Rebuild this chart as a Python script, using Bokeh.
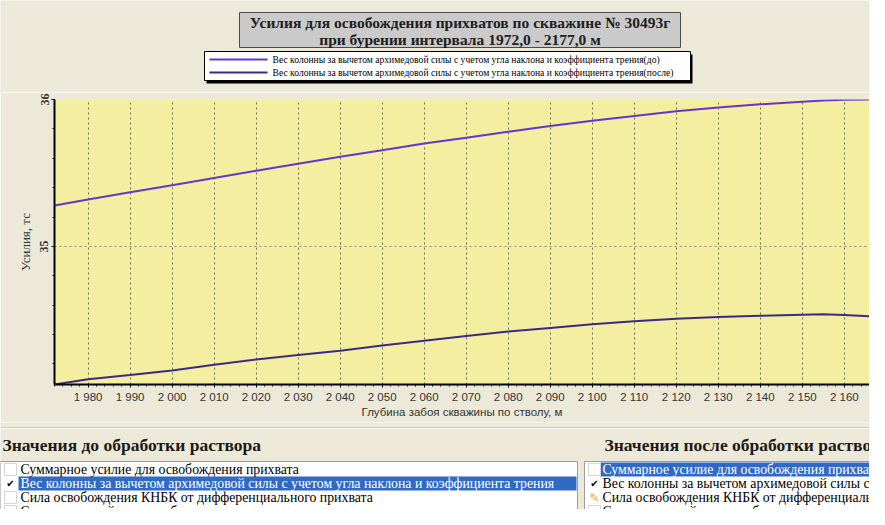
from bokeh.plotting import figure
from bokeh.models import Range1d, SingleIntervalTicker
from bokeh.layouts import column, row
from bokeh.core.properties import value
from bokeh.embed import file_html
from bokeh.resources import INLINE

# ---------------- data ----------------
depth = [1972, 1980, 1990, 2000, 2010, 2020, 2030, 2040, 2050, 2060, 2070,
         2080, 2090, 2100, 2110, 2120, 2130, 2140, 2150, 2155, 2160, 2170, 2177]
force_before = [35.278, 35.32, 35.368, 35.417, 35.466, 35.515, 35.563, 35.61, 35.655,
                35.70, 35.74, 35.78, 35.82, 35.855, 35.888, 35.92, 35.945, 35.967,
                35.985, 35.993, 35.999, 36.0, 35.998]
force_after = [34.06, 34.095, 34.125, 34.156, 34.195, 34.23, 34.26, 34.29, 34.325,
               34.358, 34.39, 34.42, 34.445, 34.47, 34.49, 34.508, 34.52, 34.528,
               34.535, 34.538, 34.533, 34.52, 34.51]

x_tick_values = [1980, 1990, 2000, 2010, 2020, 2030, 2040, 2050, 2060, 2070, 2080,
                 2090, 2100, 2110, 2120, 2130, 2140, 2150, 2160, 2170]
x_tick_labels = ["1 980", "1 990", "2 000", "2 010", "2 020", "2 030", "2 040",
                 "2 050", "2 060", "2 070", "2 080", "2 090", "2 100", "2 110",
                 "2 120", "2 130", "2 140", "2 150", "2 160", "2 170"]
y_tick_values = [35, 36]
y_tick_labels = ["35", "36"]

title_lines = ["Усилия для освобождения прихватов по скважине № 30493г",
               "при бурении интервала 1972,0 - 2177,0 м"]
legend_labels = ["Вес колонны за вычетом архимедовой силы с учетом угла наклона и коэффициента трения(до)",
                 "Вес колонны за вычетом архимедовой силы с учетом угла наклона и коэффициента трения(после)"]
x_title = "Глубина забоя скважины по стволу, м"
y_title = "Усилия, тс"

panel_titles = ["Значения до обработки раствора", "Значения после обработки раствора"]
list_items = ["Суммарное усилие для освобождения прихвата",
              "Вес колонны за вычетом архимедовой силы с учетом угла наклона и коэффициента трения",
              "Сила освобождения КНБК от дифференциального прихвата",
              "Сила взаимодействия труб со шламом в зоне осадконакопления"]
left_selected = 1
left_checked = [1]
left_edited = []
right_selected = 0
right_checked = [1]
right_edited = [2]

# ---------------- styles ----------------
BG = "#ECE9D8"
PLOT_BG = "#F3EEA0"
C_BEFORE = "#6A34CC"
C_AFTER = "#3A2A86"
SERIF = value("Liberation Serif")
SANS = value("Liberation Sans")
SEL = "#316AC5"

# ---------------- top: title + legend ----------------
ft = figure(width=869, height=92, x_range=Range1d(8, 877), y_range=Range1d(100, 8),
            output_backend="svg", toolbar_location=None,
            x_axis_location=None, y_axis_location=None,
            min_border=0, background_fill_color=BG, border_fill_color=BG,
            outline_line_color=None)
ft.grid.visible = False

ft.quad(left=[247], right=[688], top=[20], bottom=[55],
        fill_color="#CACACA", line_color="#4A4A4A", line_width=1)
ft.text(x=[467.5, 467.5], y=[30, 46.5], text=title_lines,
        text_font=SERIF, text_font_size=value("15.5px"), text_font_style="bold",
        text_align="center", text_baseline="middle", text_color="#202020")

# legend box with shadow
ft.quad(left=[214], right=[700], top=[62], bottom=[91], fill_color="#000000", line_color=None)
ft.quad(left=[212], right=[698], top=[59], bottom=[88],
        fill_color="#FFFFFF", line_color="#000000", line_width=1)
leg_y = [67, 80]
for yy, col, lab in zip(leg_y, [C_BEFORE, C_AFTER], legend_labels):
    ft.segment(x0=[217], x1=[275], y0=[yy], y1=[yy], line_color=col, line_width=2)
    ft.text(x=[280], y=[yy], text=[lab], text_font=SERIF,
            text_font_size=value("9.6px"), text_align="left",
            text_baseline="middle", text_color="#000000")

# ---------------- main plot ----------------
p = figure(width=869, height=330, x_range=Range1d(1972, 2166),
           y_range=Range1d(34.06, 36.0),
           output_backend="svg", toolbar_location=None,
           min_border_left=54, min_border_right=0, min_border_top=7,
           min_border_bottom=38,
           background_fill_color=PLOT_BG, border_fill_color=BG,
           outline_line_color=None)

p.xaxis.ticker = SingleIntervalTicker(interval=10, num_minor_ticks=5)
p.xaxis.major_label_overrides = dict(zip(x_tick_values, x_tick_labels))
p.yaxis.ticker = SingleIntervalTicker(interval=1, num_minor_ticks=5)
p.yaxis.major_label_overrides = dict(zip(y_tick_values, y_tick_labels))

p.xaxis.axis_label = x_title
p.yaxis.axis_label = y_title

for ax in (p.xaxis, p.yaxis):
    ax.axis_line_color = "#000000"
    ax.axis_line_width = 2
    ax.major_tick_in = 0
    ax.major_tick_out = 3
    ax.minor_tick_in = 0
    ax.minor_tick_out = 2
    ax.major_tick_line_color = "#000000"
    ax.minor_tick_line_color = "#000000"
    ax.axis_label_text_font_style = "normal"
    ax.axis_label_text_color = "#333333"
    ax.major_label_text_color = "#333333"

p.xaxis.major_label_text_font = "Liberation Sans"
p.xaxis.major_label_text_font_size = "11.5px"
p.xaxis.major_label_standoff = 3
p.xaxis.axis_label_text_font = "Liberation Sans"
p.xaxis.axis_label_text_font_size = "11.5px"
p.xaxis.axis_label_standoff = 0

p.yaxis.major_label_text_font = "Liberation Serif"
p.yaxis.major_label_text_font_size = "12px"
p.yaxis.major_label_text_font_style = "bold"
p.yaxis.major_label_orientation = "vertical"
p.yaxis.major_label_standoff = 3
p.yaxis.axis_label_text_font = "Liberation Serif"
p.yaxis.axis_label_text_font_size = "13px"
p.yaxis.axis_label_standoff = 5

p.xgrid.grid_line_color = "#6E6E5A"
p.xgrid.grid_line_dash = "2 3"
p.xgrid.grid_line_width = 1
p.ygrid.grid_line_color = "#8C8C78"
p.ygrid.grid_line_dash = "2 3"
p.ygrid.grid_line_width = 1

p.line(depth, force_before, line_color=C_BEFORE, line_width=2)
p.line(depth, force_after, line_color=C_AFTER, line_width=2)

# ---------------- bottom: value panels ----------------
fb = figure(width=869, height=87, x_range=Range1d(8, 877), y_range=Range1d(517, 430),
            output_backend="svg", toolbar_location=None,
            x_axis_location=None, y_axis_location=None,
            min_border=0, background_fill_color=BG, border_fill_color=BG,
            outline_line_color=None)
fb.grid.visible = False

fb.segment(x0=[8], x1=[877], y0=[435], y1=[435], line_color="#D0CCBA", line_width=1)
fb.segment(x0=[8], x1=[877], y0=[436], y1=[436], line_color="#FAFAF6", line_width=1)

fb.text(x=[10, 612], y=[452, 452], text=panel_titles, text_font=SERIF,
        text_font_size=value("17.5px"), text_font_style="bold",
        text_align="left", text_baseline="middle", text_color="#1A1A1A")

row_y = [477, 491, 505, 519]
panels = [(8, 585, 12, 28, left_selected, left_checked, left_edited),
          (592, 900, 596, 610, right_selected, right_checked, right_edited)]
for (bx0, bx1, cbx, tx, sel, checked, edited) in panels:
    fb.quad(left=[bx0], right=[bx1], top=[469], bottom=[530],
            fill_color="#FFFFFF", line_color="#9C9C9C", line_width=1)
    for i, (yy, item) in enumerate(zip(row_y, list_items)):
        if i == sel:
            fb.quad(left=[tx - 2], right=[bx1 - 1], top=[yy - 7], bottom=[yy + 7],
                    fill_color=SEL, line_color=None)
        if i in checked:
            fb.text(x=[cbx + 6], y=[yy], text=["✔"], text_font=value("DejaVu Sans"),
                    text_font_size=value("10px"), text_align="center",
                    text_baseline="middle", text_color="#000000")
        elif i in edited:
            fb.text(x=[cbx + 6], y=[yy], text=["✎"], text_font=value("DejaVu Sans"),
                    text_font_size=value("12px"), text_align="center",
                    text_baseline="middle", text_color="#D8A838")
        else:
            fb.quad(left=[cbx], right=[cbx + 12], top=[yy - 6], bottom=[yy + 6],
                    fill_color="#FFFFFF", line_color="#D4D4D4", line_width=1)
        fb.text(x=[tx], y=[yy], text=[item], text_font=SERIF,
                text_font_size=value("13.8px"), text_align="left",
                text_baseline="middle",
                text_color="#FFFFFF" if i == sel else "#000000")

layout = column(row(ft), p, row(fb), spacing=0)
open("out.html", "w").write(file_html(layout, INLINE))
